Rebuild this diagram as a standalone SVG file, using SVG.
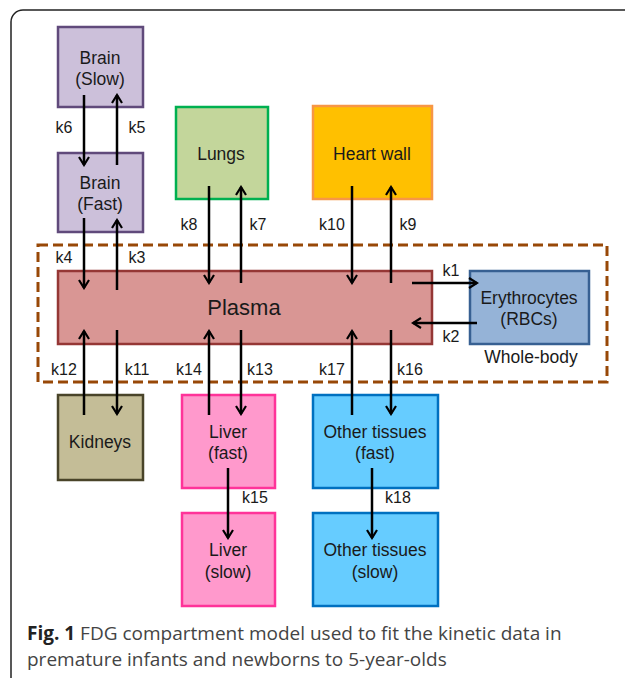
<svg xmlns="http://www.w3.org/2000/svg" width="625" height="678" viewBox="0 0 625 678">
<defs>
<marker id="ah" viewBox="0 0 12 12" refX="10" refY="6" markerWidth="12" markerHeight="12" markerUnits="userSpaceOnUse" orient="auto">
<path d="M2 1 L10 6 L2 11" fill="none" stroke="#000" stroke-width="2.2"/>
</marker>
</defs>
<style>
.n{stroke-width:2.5}
.t{font-family:"Liberation Sans",Arial,sans-serif;font-size:17.5px;fill:#1a1a1a;text-anchor:middle}
.k{font-family:"Liberation Sans",Arial,sans-serif;font-size:16px;fill:#1a1a1a;text-anchor:middle}
.a{stroke:#000;stroke-width:2.5;fill:none;marker-end:url(#ah)}
.cap{font-family:"Open Sans",sans-serif;font-size:19px;fill:#444}
</style>
<rect x="11" y="10" width="660" height="700" rx="12" fill="#fff" stroke="#222" stroke-width="1.5"/>
<rect x="38" y="245" width="569" height="137" fill="none" stroke="#984807" stroke-width="3" stroke-dasharray="10 5"/>
<g id="brain-slow"><rect class="n" x="58" y="27" width="85" height="80" fill="#ccc0da" stroke="#604a7b"/><text class="t" x="100" y="64">Brain</text><text class="t" x="100" y="85">(Slow)</text></g>
<g id="brain-fast"><rect class="n" x="58" y="153" width="85" height="79" fill="#ccc0da" stroke="#604a7b"/><text class="t" x="100" y="189">Brain</text><text class="t" x="100" y="210">(Fast)</text></g>
<g id="lungs"><rect class="n" x="176" y="107" width="92" height="92" fill="#c3d69b" stroke="#00b050"/><text class="t" x="221" y="160">Lungs</text></g>
<g id="heart"><rect class="n" x="313" y="106" width="119" height="93" fill="#ffc000" stroke="#f79646"/><text class="t" x="372" y="160">Heart wall</text></g>
<g id="plasma"><rect class="n" x="58" y="271" width="374" height="73" fill="#d99694" stroke="#953735"/><text class="t" style="font-size:22px" x="244" y="315">Plasma</text></g>
<g id="rbc"><rect class="n" x="470" y="271" width="119" height="73" fill="#95b3d7" stroke="#376092"/><text class="t" x="529" y="304">Erythrocytes</text><text class="t" x="529" y="325">(RBCs)</text><text class="t" x="531" y="363">Whole-body</text></g>
<g id="kidneys"><rect class="n" x="58" y="395" width="85" height="85" fill="#c4bd97" stroke="#494429"/><text class="t" x="100" y="448">Kidneys</text></g>
<g id="liver-fast"><rect class="n" x="182" y="395" width="93" height="93" fill="#ff99cc" stroke="#ff3399"/><text class="t" x="228" y="438">Liver</text><text class="t" x="228" y="459">(fast)</text></g>
<g id="liver-slow"><rect class="n" x="182" y="513" width="93" height="93" fill="#ff99cc" stroke="#ff3399"/><text class="t" x="228" y="556">Liver</text><text class="t" x="228" y="578">(slow)</text></g>
<g id="other-fast"><rect class="n" x="313" y="395" width="125" height="93" fill="#66ccff" stroke="#0070c0"/><text class="t" x="375" y="438">Other tissues</text><text class="t" x="375" y="459">(fast)</text></g>
<g id="other-slow"><rect class="n" x="313" y="513" width="125" height="93" fill="#66ccff" stroke="#0070c0"/><text class="t" x="375" y="556">Other tissues</text><text class="t" x="375" y="578">(slow)</text></g>
<g id="connectors">
<line class="a" x1="84" y1="95" x2="84" y2="165"/>
<line class="a" x1="117" y1="165" x2="117" y2="95"/>
<line class="a" x1="84" y1="218" x2="84" y2="288"/>
<line class="a" x1="117" y1="290" x2="117" y2="220"/>
<line class="a" x1="209" y1="186" x2="209" y2="283"/>
<line class="a" x1="241" y1="283" x2="241" y2="187"/>
<line class="a" x1="352" y1="186" x2="352" y2="283"/>
<line class="a" x1="391" y1="283" x2="391" y2="187"/>
<line class="a" x1="412" y1="283" x2="477" y2="283"/>
<line class="a" x1="477" y1="323" x2="413" y2="323"/>
<line class="a" x1="84" y1="415" x2="84" y2="331"/>
<line class="a" x1="117" y1="330" x2="117" y2="414"/>
<line class="a" x1="209" y1="415" x2="209" y2="331"/>
<line class="a" x1="241" y1="330" x2="241" y2="414"/>
<line class="a" x1="352" y1="415" x2="352" y2="331"/>
<line class="a" x1="391" y1="330" x2="391" y2="414"/>
<line class="a" x1="228" y1="468" x2="228" y2="538"/>
<line class="a" x1="372" y1="468" x2="372" y2="538"/>
</g>
<g id="labels">
<text class="k" x="64" y="133">k6</text><text class="k" x="137" y="133">k5</text>
<text class="k" x="64" y="263">k4</text><text class="k" x="137" y="263">k3</text>
<text class="k" x="189" y="230">k8</text><text class="k" x="258" y="230">k7</text>
<text class="k" x="332" y="230">k10</text><text class="k" x="408" y="230">k9</text>
<text class="k" x="451" y="276">k1</text><text class="k" x="451" y="342">k2</text>
<text class="k" x="64" y="375">k12</text><text class="k" x="137" y="375">k11</text>
<text class="k" x="189" y="375">k14</text><text class="k" x="260" y="375">k13</text>
<text class="k" x="332" y="375">k17</text><text class="k" x="410" y="375">k16</text>
<text class="k" x="255" y="503">k15</text><text class="k" x="398" y="503">k18</text>
</g>
<text class="cap" x="27" y="640"><tspan font-weight="bold" fill="#222">Fig. 1</tspan> FDG compartment model used to fit the kinetic data in</text>
<text class="cap" x="27" y="666">premature infants and newborns to 5-year-olds</text>
</svg>
